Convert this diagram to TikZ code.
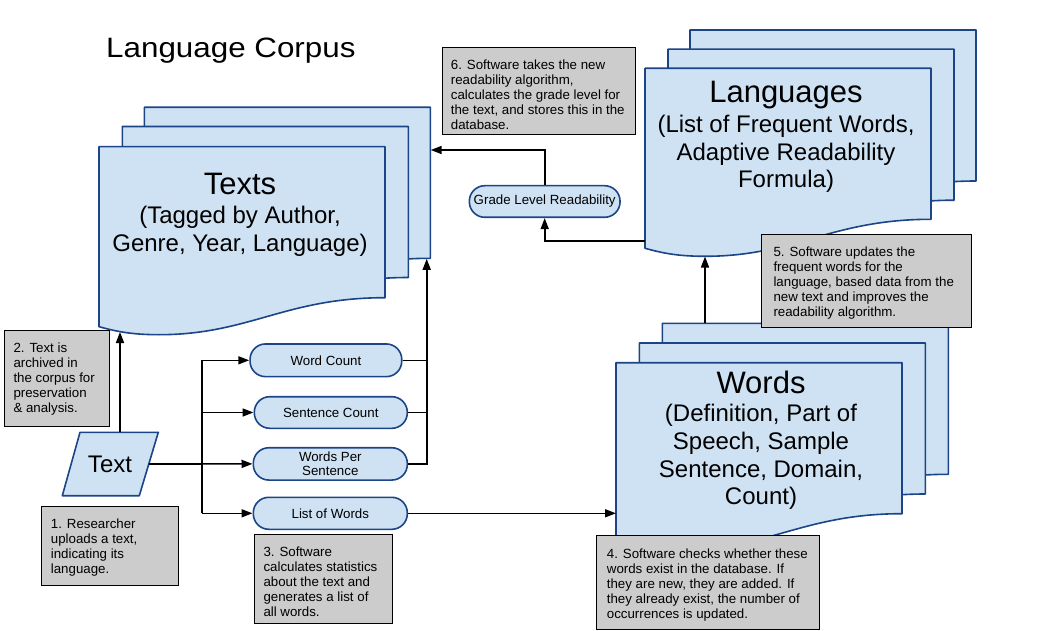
\documentclass[tikz,border=0pt]{standalone}
\usepackage{fontspec}
\setmainfont{Liberation Sans}
\usetikzlibrary{arrows.meta,calc}
\definecolor{docfill}{HTML}{CFE2F3}
\definecolor{docline}{HTML}{1C4587}
\definecolor{notefill}{HTML}{CCCCCC}
\newcommand{\mydoc}[2]{\begin{scope}[shift={(#1,#2)}]\path[docsheet] (0,0) -- (286,0) -- (286,151) .. controls (186,151) and (150,188) .. (60,188) .. controls (30,188) and (15,184) .. (0,180) -- cycle;\end{scope}}
\begin{document}
\begin{tikzpicture}[x=1pt,y=-1pt,
  docsheet/.style={draw=docline, fill=docfill, line width=1.6pt, line join=round},
  notebox/.style={draw=black, fill=notefill, line width=1.1pt, inner sep=0pt, anchor=north west},
  notetext/.style={inner sep=0pt, anchor=north west, align=left, font=\fontsize{13.3}{15}\selectfont},
  pill/.style={draw=docline, fill=docfill, line width=1.6pt, rounded corners=15.5pt, inner sep=0pt, font=\fontsize{13.3}{14}\selectfont, align=center},
  conn/.style={draw=black, line width=1.6pt},
  arr/.style={conn, -{Triangle[length=11pt,width=8pt]}},
  bigtitle/.style={inner sep=0pt, anchor=base, font=\fontsize{31}{31}\selectfont},
  subtitle/.style={inner sep=0pt, anchor=north, align=center, font=\fontsize{24}{27.7}\selectfont},
]
\useasboundingbox (0,0) rectangle (1039,631);
\fill[white] (0,0) rectangle (1039,631);

% title
\node[anchor=base west, inner sep=0pt, font=\fontsize{28}{28}\selectfont] (title) at (106,57.7) {\scalebox{1.12}[1]{Language Corpus}};

% document stacks
\mydoc{144.3}{107.3}\mydoc{122.3}{126.5}\mydoc{99}{146.7}
\mydoc{690}{30}\mydoc{668}{49.2}\mydoc{645}{68.3}
\mydoc{662.3}{323.3}\mydoc{639.3}{343}\mydoc{616}{362.7}

\node[bigtitle] (textsT) at (240,194.3) {Texts};
\node[subtitle] (textsS) at (240,206) {(Tagged by Author,\\Genre, Year, Language)};
\node[bigtitle] (langT) at (786,102.5) {Languages};
\node[subtitle] (langS) at (786,114.8) {(List of Frequent Words,\\Adaptive Readability\\Formula)};
\node[bigtitle] (wordsT) at (761,393.3) {Words};
\node[subtitle] (wordsS) at (761,404.2) {(Definition, Part of\\Speech, Sample\\Sentence, Domain,\\Count)};

% input parallelogram
\path[docsheet] (80,432.3) -- (158.3,432.3) -- (139.3,495.7) -- (62.3,495.7) -- cycle;
\node[anchor=base, inner sep=0pt, font=\fontsize{24}{24}\selectfont] (text) at (110,472.3) {Text};

% pills
\node[pill, minimum width=151.7, minimum height=32.7] (wc) at (325.9,360.3) {Word Count};
\node[pill, minimum width=153, minimum height=31.6] (sc) at (330.8,412.5) {Sentence Count};
\node[pill, minimum width=154, minimum height=32.3] (wps) at (330.3,463.9) {Words Per\\Sentence};
\node[pill, minimum width=154, minimum height=32] (low) at (330.3,513.3) {List of Words};
\node[pill, minimum width=150.7, minimum height=31.6] (glr) at (544.7,201.5) {Grade Level Readability};

% connector coordinates
\coordinate (textTop) at (120,432.3);
\coordinate (textsBottom) at (120,332);
\coordinate (textRight) at (148.8,464);
\coordinate (busTop) at (201.7,360.3);
\coordinate (busBot) at (201.7,513.3);
\coordinate (colTop) at (426.7,258.8);
\coordinate (wordsLeft) at (616,513.3);
\coordinate (wordsTop) at (705,323.3);
\coordinate (langBottom) at (705,256.5);
\coordinate (langLeft) at (645,241);
\coordinate (textsRight) at (430.7,150);

% connectors
\draw[arr] (textTop) -- (textsBottom);
\draw[arr] (textRight) -- (wps.west);
\draw[conn] (busTop) -- (busBot);
\draw[arr] (busTop) -- (wc.west);
\draw[arr] (busTop |- sc.west) -- (sc.west);
\draw[arr] (busBot) -- (low.west);
\draw[conn] (wc.east) -- (wc.east -| colTop);
\draw[conn] (sc.east) -- (sc.east -| colTop);
\draw[arr] (wps.east) -- (wps.east -| colTop) -- (colTop);
\draw[arr] (low.east) -- (wordsLeft);
\draw[arr] (wordsTop) -- (langBottom);
\draw[arr] (langLeft) -- (langLeft -| glr.south) -- (glr.south);
\draw[arr] (glr.north) -- (glr.north |- textsRight) -- (textsRight);

% notes
\node[notebox, minimum width=193.3, minimum height=87.6] (n6) at (441.7,46.7) {};
\node[notetext] (t6) at (450.7,59.7) {6. Software takes the new\\readability algorithm,\\calculates the grade level for\\the text, and stores this in the\\database.};
\node[notebox, minimum width=210, minimum height=92.7] (n5) at (761,234) {};
\node[notetext] (t5) at (773.3,247.1) {5. Software updates the\\frequent words for the\\language, based data from the\\new text and improves the\\readability algorithm.};
\node[notebox, minimum width=223.3, minimum height=94.3] (n4) at (596,535) {};
\node[notetext] (t4) at (606.7,548.7) {4. Software checks whether these\\words exist in the database. If\\they are new, they are added. If\\they already exist, the number of\\occurrences is updated.};
\node[notebox, minimum width=137.4, minimum height=88.7] (n3) at (254.3,534) {};
\node[notetext] (t3) at (263.3,547.1) {3. Software\\calculates statistics\\about the text and\\generates a list of\\all words.};
\node[notebox, minimum width=104.4, minimum height=96] (n2) at (4.3,330) {};
\node[notetext] (t2) at (13.3,343.1) {2. Text is\\archived in\\the corpus for\\preservation\\\& analysis.};
\node[notebox, minimum width=137, minimum height=79] (n1) at (40.7,506) {};
\node[notetext] (t1) at (50.7,518.7) {1. Researcher\\uploads a text,\\indicating its\\language.};
\end{tikzpicture}
\end{document}
